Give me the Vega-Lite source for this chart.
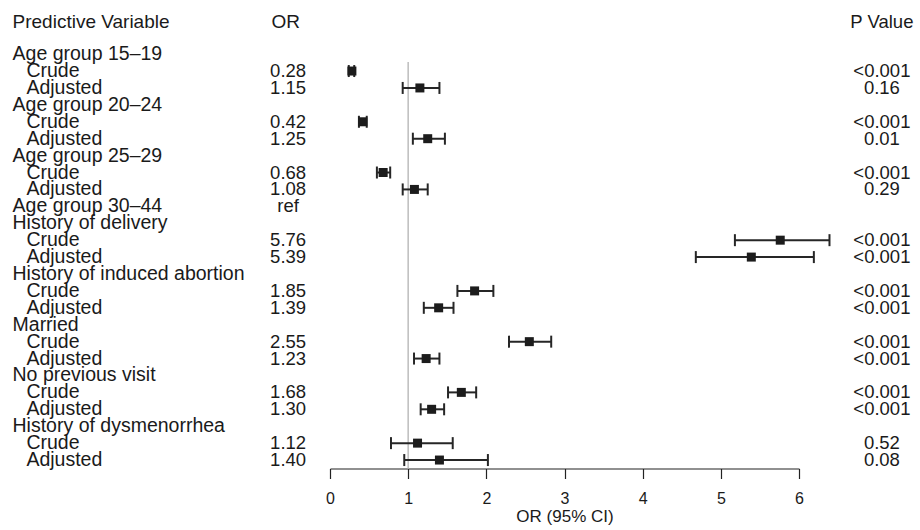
{
  "$schema": "https://vega.github.io/schema/vega-lite/v6.json",
  "padding": 0,
  "spacing": 0,
  "bounds": "flush",
  "background": "white",
  "datasets": {
    "rows": [
      {"row": 1, "label": "Age group 15–19", "type": "group", "ortext": "", "p": ""},
      {"row": 2, "label": "Crude", "type": "sub", "or": 0.28, "lo": 0.24, "hi": 0.31, "ortext": "0.28", "p": "<0.001"},
      {"row": 3, "label": "Adjusted", "type": "sub", "or": 1.15, "lo": 0.93, "hi": 1.40, "ortext": "1.15", "p": "0.16"},
      {"row": 4, "label": "Age group 20–24", "type": "group", "ortext": "", "p": ""},
      {"row": 5, "label": "Crude", "type": "sub", "or": 0.42, "lo": 0.37, "hi": 0.47, "ortext": "0.42", "p": "<0.001"},
      {"row": 6, "label": "Adjusted", "type": "sub", "or": 1.25, "lo": 1.06, "hi": 1.47, "ortext": "1.25", "p": "0.01"},
      {"row": 7, "label": "Age group 25–29", "type": "group", "ortext": "", "p": ""},
      {"row": 8, "label": "Crude", "type": "sub", "or": 0.68, "lo": 0.60, "hi": 0.77, "ortext": "0.68", "p": "<0.001"},
      {"row": 9, "label": "Adjusted", "type": "sub", "or": 1.08, "lo": 0.93, "hi": 1.25, "ortext": "1.08", "p": "0.29"},
      {"row": 10, "label": "Age group 30–44", "type": "group", "ortext": "ref", "p": ""},
      {"row": 11, "label": "History of delivery", "type": "group", "ortext": "", "p": ""},
      {"row": 12, "label": "Crude", "type": "sub", "or": 5.76, "lo": 5.18, "hi": 6.39, "ortext": "5.76", "p": "<0.001"},
      {"row": 13, "label": "Adjusted", "type": "sub", "or": 5.39, "lo": 4.68, "hi": 6.19, "ortext": "5.39", "p": "<0.001"},
      {"row": 14, "label": "History of induced abortion", "type": "group", "ortext": "", "p": ""},
      {"row": 15, "label": "Crude", "type": "sub", "or": 1.85, "lo": 1.63, "hi": 2.09, "ortext": "1.85", "p": "<0.001"},
      {"row": 16, "label": "Adjusted", "type": "sub", "or": 1.39, "lo": 1.20, "hi": 1.58, "ortext": "1.39", "p": "<0.001"},
      {"row": 17, "label": "Married", "type": "group", "ortext": "", "p": ""},
      {"row": 18, "label": "Crude", "type": "sub", "or": 2.55, "lo": 2.29, "hi": 2.83, "ortext": "2.55", "p": "<0.001"},
      {"row": 19, "label": "Adjusted", "type": "sub", "or": 1.23, "lo": 1.075, "hi": 1.40, "ortext": "1.23", "p": "<0.001"},
      {"row": 20, "label": "No previous visit", "type": "group", "ortext": "", "p": ""},
      {"row": 21, "label": "Crude", "type": "sub", "or": 1.68, "lo": 1.51, "hi": 1.87, "ortext": "1.68", "p": "<0.001"},
      {"row": 22, "label": "Adjusted", "type": "sub", "or": 1.30, "lo": 1.16, "hi": 1.46, "ortext": "1.30", "p": "<0.001"},
      {"row": 23, "label": "History of dysmenorrhea", "type": "group", "ortext": "", "p": ""},
      {"row": 24, "label": "Crude", "type": "sub", "or": 1.12, "lo": 0.78, "hi": 1.57, "ortext": "1.12", "p": "0.52"},
      {"row": 25, "label": "Adjusted", "type": "sub", "or": 1.40, "lo": 0.95, "hi": 2.02, "ortext": "1.40", "p": "0.08"}
    ]
  },
  "hconcat": [
    {
      "width": 330,
      "height": 468.5,
      "layer": [
        {
          "data": {"values": [{"h": "Predictive Variable"}]},
          "mark": {"type": "text", "align": "left", "baseline": "middle", "fontSize": 19, "color": "#1a1a1a"},
          "encoding": {
            "x": {"datum": 0.038, "type": "quantitative", "scale": {"domain": [0, 1], "nice": false, "zero": false}, "axis": null},
            "y": {"datum": -0.89, "type": "quantitative", "scale": {"domain": [-2.2, 25.5], "reverse": true, "nice": false, "zero": false}, "axis": null},
            "text": {"field": "h"}
          }
        },
        {
          "data": {"values": [{"h": "OR"}]},
          "mark": {"type": "text", "align": "center", "baseline": "middle", "fontSize": 19, "color": "#1a1a1a"},
          "encoding": {
            "x": {"datum": 0.866, "type": "quantitative"},
            "y": {"datum": -0.89, "type": "quantitative"},
            "text": {"field": "h"}
          }
        },
        {
          "data": {"name": "rows"},
          "transform": [{"filter": "datum.type === 'group'"}],
          "mark": {"type": "text", "align": "left", "baseline": "middle", "fontSize": 19.5, "color": "#1a1a1a"},
          "encoding": {
            "x": {"datum": 0.038, "type": "quantitative"},
            "y": {"field": "row", "type": "quantitative"},
            "text": {"field": "label"}
          }
        },
        {
          "data": {"name": "rows"},
          "transform": [{"filter": "datum.type === 'sub'"}],
          "mark": {"type": "text", "align": "left", "baseline": "middle", "fontSize": 19.5, "color": "#1a1a1a"},
          "encoding": {
            "x": {"datum": 0.08, "type": "quantitative"},
            "y": {"field": "row", "type": "quantitative"},
            "text": {"field": "label"}
          }
        },
        {
          "data": {"name": "rows"},
          "mark": {"type": "text", "align": "center", "baseline": "middle", "fontSize": 18.5, "color": "#1a1a1a"},
          "encoding": {
            "x": {"datum": 0.873, "type": "quantitative"},
            "y": {"field": "row", "type": "quantitative"},
            "text": {"field": "ortext"}
          }
        }
      ]
    },
    {
      "width": 469,
      "height": 468.5,
      "layer": [
        {
          "data": {"values": [{"ref": 1}]},
          "mark": {"type": "rule", "color": "#bdbdbd", "strokeWidth": 1.5},
          "encoding": {
            "x": {
              "field": "ref", "type": "quantitative", "title": "OR (95% CI)",
              "scale": {"domain": [0, 6], "nice": false, "zero": false},
              "axis": {
                "values": [0, 1, 2, 3, 4, 5, 6], "format": "d", "grid": false, "tickSize": 10, "tickWidth": 1.2,
                "domainWidth": 1.2, "domainColor": "#222222", "tickColor": "#222222",
                "labelColor": "#1a1a1a", "titleColor": "#1a1a1a", "labelFontSize": 16, "titleFontSize": 17,
                "titleFontWeight": "normal", "labelPadding": 12, "titlePadding": 2, "labelFlush": false
              }
            },
            "y": {"datum": 1.47, "type": "quantitative", "scale": {"domain": [-2.2, 25.5], "reverse": true, "nice": false, "zero": false}, "axis": null},
            "y2": {"datum": 25.5}
          }
        },
        {
          "data": {"name": "rows"},
          "transform": [{"filter": "isValid(datum.or)"}],
          "mark": {"type": "rule", "color": "#262626", "strokeWidth": 2},
          "encoding": {
            "x": {"field": "lo", "type": "quantitative", "title": "OR (95% CI)"},
            "x2": {"field": "hi"},
            "y": {"field": "row", "type": "quantitative"}
          }
        },
        {
          "data": {"name": "rows"},
          "transform": [{"filter": "isValid(datum.or)"}],
          "mark": {"type": "tick", "orient": "vertical", "color": "#262626", "size": 12, "thickness": 2, "opacity": 1},
          "encoding": {
            "x": {"field": "lo", "type": "quantitative", "title": "OR (95% CI)"},
            "y": {"field": "row", "type": "quantitative"}
          }
        },
        {
          "data": {"name": "rows"},
          "transform": [{"filter": "isValid(datum.or)"}],
          "mark": {"type": "tick", "orient": "vertical", "color": "#262626", "size": 12, "thickness": 2, "opacity": 1},
          "encoding": {
            "x": {"field": "hi", "type": "quantitative", "title": "OR (95% CI)"},
            "y": {"field": "row", "type": "quantitative"}
          }
        },
        {
          "data": {"name": "rows"},
          "transform": [{"filter": "isValid(datum.or)"}],
          "mark": {"type": "square", "color": "#1c1c1c", "filled": true, "size": 81, "opacity": 1},
          "encoding": {
            "x": {"field": "or", "type": "quantitative", "title": "OR (95% CI)"},
            "y": {"field": "row", "type": "quantitative"}
          }
        }
      ]
    },
    {
      "width": 121,
      "height": 468.5,
      "layer": [
        {
          "data": {"values": [{"h": "P Value"}]},
          "mark": {"type": "text", "align": "center", "baseline": "middle", "fontSize": 18.5, "color": "#1a1a1a"},
          "encoding": {
            "x": {"datum": 0.685, "type": "quantitative", "scale": {"domain": [0, 1], "nice": false, "zero": false}, "axis": null},
            "y": {"datum": -0.89, "type": "quantitative", "scale": {"domain": [-2.2, 25.5], "reverse": true, "nice": false, "zero": false}, "axis": null},
            "text": {"field": "h"}
          }
        },
        {
          "data": {"name": "rows"},
          "mark": {"type": "text", "align": "center", "baseline": "middle", "fontSize": 18.5, "color": "#1a1a1a"},
          "encoding": {
            "x": {"datum": 0.685, "type": "quantitative"},
            "y": {"field": "row", "type": "quantitative"},
            "text": {"field": "p"}
          }
        }
      ]
    }
  ],
  "config": {
    "font": "Liberation Sans",
    "view": {"stroke": null}
  }
}
